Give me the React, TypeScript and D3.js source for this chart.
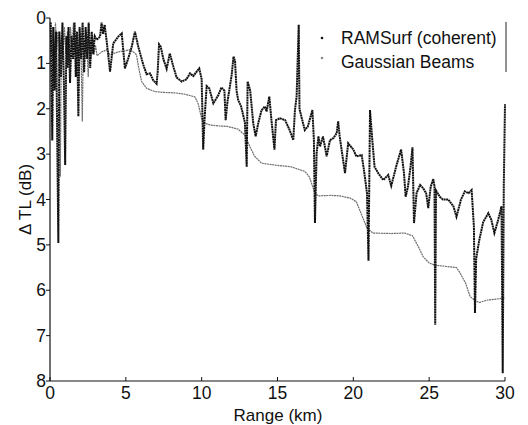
import React from "react";
import * as d3 from "d3";

const ramRange = [0.05,0.15,0.22,0.3,0.4,0.55,0.62,0.72,0.82,0.92,1.0,1.08,1.15,1.22,1.32,1.42,1.52,1.62,1.7,1.78,1.87,1.95,2.05,2.15,2.25,2.35,2.45,2.55,2.65,2.75,2.85,2.95,3.08,3.3,3.4,3.5,3.6,3.74,3.96,4.17,4.5,4.73,4.94,5.16,5.39,5.6,5.82,6.15,6.37,6.6,6.8,7.03,7.1,7.19,7.3,7.47,7.69,7.9,8.13,8.35,8.68,9.0,9.23,9.45,9.67,9.84,10.0,10.1,10.2,10.33,10.5,10.77,11.1,11.3,11.5,11.58,11.7,11.98,12.1,12.2,12.3,12.4,12.6,12.85,12.97,13.03,13.2,13.4,13.56,13.73,13.95,14.17,14.28,14.46,14.6,14.8,14.9,15.16,15.5,15.8,16.04,16.15,16.26,16.4,16.45,16.63,16.8,17.0,17.3,17.4,17.47,17.58,17.7,17.8,18.0,18.24,18.46,18.68,18.9,19.0,19.1,19.45,19.66,20.0,20.2,20.55,20.7,20.9,21.0,21.1,21.25,21.4,21.64,21.97,22.3,22.5,22.85,23.15,23.34,23.45,23.6,23.77,23.9,24.0,24.17,24.4,24.6,24.8,24.94,25.1,25.27,25.35,25.4,25.45,25.7,25.9,26.26,26.6,26.8,27.1,27.35,27.6,27.8,27.95,28.02,28.1,28.3,28.56,28.9,29.1,29.3,29.55,29.77,29.85,29.92,30.0];
const ramTL = [0.1,2.7,0.2,1.6,0.3,4.96,0.3,1.3,0.1,1.5,3.24,0.4,1.1,0.2,1.43,0.4,0.9,0.1,1.3,0.3,2.17,0.2,0.9,0.1,1.2,0.2,0.9,0.1,1.1,0.3,0.8,0.4,0.48,0.41,0.1,0.35,0.15,0.52,1.18,0.56,0.41,0.34,1.11,0.89,0.63,0.3,0.63,1.03,1.24,1.22,1.37,1.45,1.18,0.58,0.63,0.9,1.12,0.78,1.07,1.31,1.4,1.35,1.22,1.28,1.18,1.11,1.35,2.9,2.17,1.5,1.55,1.88,1.7,1.53,1.6,2.25,1.85,1.25,0.85,0.95,1.6,1.8,1.95,2.3,3.28,1.4,1.6,2.32,2.61,2.32,2.03,1.95,2.06,1.73,2.25,2.9,2.25,2.21,2.25,2.47,2.69,2.03,1.73,0.15,2.0,2.25,2.47,2.39,2.03,2.69,4.52,2.98,2.61,2.83,2.61,3.05,2.69,2.65,2.54,2.28,2.61,3.42,2.76,2.9,3.05,3.02,3.35,3.86,5.35,2.03,2.69,3.28,3.42,3.57,3.46,3.7,3.24,2.9,3.42,3.94,3.72,3.28,2.85,4.52,3.86,3.68,3.75,3.86,4.19,3.72,3.55,3.7,6.76,3.8,3.94,4.0,4.0,4.15,4.38,4.0,3.82,3.86,3.79,4.6,6.5,5.3,4.9,4.5,4.3,4.45,4.74,4.45,4.15,7.83,3.7,1.9];

const gbRange = [0.05,0.12,0.2,0.28,0.36,0.45,0.52,0.6,0.68,0.75,0.85,0.95,1.05,1.15,1.25,1.35,1.45,1.55,1.65,1.75,1.85,1.95,2.05,2.13,2.2,2.3,2.4,2.52,2.6,2.7,2.8,2.9,3.0,3.1,3.4,3.75,3.96,4.3,4.6,5.0,5.27,5.5,5.7,5.85,6.04,6.37,6.9,7.5,8.24,8.9,9.56,9.78,9.95,10.1,10.6,11.2,11.7,12.4,12.85,13.2,13.5,13.95,14.8,15.9,16.8,17.1,17.3,17.5,17.7,18.5,19.1,19.8,20.2,20.55,20.9,21.3,22.5,23.4,23.9,24.3,24.6,25.0,25.4,26.0,26.8,27.0,27.4,27.7,28.0,28.3,28.8,29.3,30.0];
const gbTL = [0.3,0.8,0.2,0.9,0.1,0.7,0.3,0.6,3.5,0.4,0.9,0.2,0.8,0.3,1.0,0.2,0.7,0.1,0.8,0.4,0.9,0.3,0.8,2.28,0.5,0.9,0.3,1.3,0.5,0.9,0.4,0.8,0.6,0.83,0.75,0.7,0.81,0.77,0.74,0.72,0.7,0.75,0.81,1.1,1.4,1.55,1.62,1.64,1.65,1.68,1.74,1.9,2.15,2.31,2.36,2.38,2.39,2.45,2.58,2.85,3.05,3.2,3.24,3.28,3.38,3.5,3.7,3.88,3.92,3.91,3.92,3.97,4.05,4.34,4.63,4.74,4.75,4.74,4.8,5.05,5.26,5.4,5.45,5.47,5.5,5.6,5.84,6.14,6.22,6.27,6.22,6.2,6.17];

const xTicks = [0, 5, 10, 15, 20, 25, 30];
const yTicks = [0, 1, 2, 3, 4, 5, 6, 7, 8];
const legendLabels = ["RAMSurf (coherent)", "Gaussian Beams"];

const W = 528, H = 425;
const left = 50, right = 505, top = 18, bottom = 381;
const FONT = "'Liberation Sans', Arial, sans-serif";

export default function App() {
  const x = d3.scaleLinear().domain([0, 30]).range([left, right]);
  const y = d3.scaleLinear().domain([0, 8]).range([top, bottom]);
  const line = d3.line<[number, number]>().x(d => x(d[0])).y(d => y(d[1]));
  const ram = ramRange.map((r, i) => [r, ramTL[i]] as [number, number]);
  const gb = gbRange.map((r, i) => [r, gbTL[i]] as [number, number]);
  const fs = 17;
  return (
    <div style={{ position: "absolute", left: 0, top: 0 }}>
      <svg width={W} height={H} style={{ display: "block", background: "#fff" }}>
        <path d={line(gb) || ""} fill="none" stroke="#6e6e6e" strokeWidth={1.2} strokeDasharray="2 0.6" />
        <path d={line(ram) || ""} fill="none" stroke="#111" strokeWidth={2} strokeDasharray="2 0.5" />
        {/* axes */}
        <line x1={left} x2={left} y1={top} y2={bottom} stroke="#111" strokeWidth={1.2} />
        <line x1={left} x2={right} y1={bottom} y2={bottom} stroke="#111" strokeWidth={1.2} />
        {yTicks.map(t => (
          <g key={"y" + t}>
            <line x1={left - 4} x2={left} y1={y(t)} y2={y(t)} stroke="#111" strokeWidth={1} />
            <text x={left - 4} y={y(t)} textAnchor="end" dominantBaseline="central" fontFamily={FONT} fontSize={fs + 0.5} fill="#111">{t}</text>
          </g>
        ))}
        {xTicks.map(t => (
          <g key={"x" + t}>
            <line x1={x(t)} x2={x(t)} y1={bottom - 4} y2={bottom} stroke="#111" strokeWidth={1} />
            <text x={x(t)} y={399} textAnchor="middle" fontFamily={FONT} fontSize={fs + 0.5} fill="#111">{t}</text>
          </g>
        ))}
        <text x={(left + right) / 2 + 0.5} y={421} textAnchor="middle" fontFamily={FONT} fontSize={fs} fill="#111">Range (km)</text>
        <text transform={`translate(31,${(top + bottom) / 2}) rotate(-90)`} textAnchor="middle" fontFamily={FONT} fontSize={fs} fill="#111">Δ TL (dB)</text>
        {/* legend */}
        <line x1={right + 1} x2={right + 1} y1={22} y2={72} stroke="#222" strokeWidth={1} />
        <circle cx={322} cy={38} r={1.3} fill="#111" />
        <circle cx={322} cy={58} r={1.3} fill="#8a8a8a" />
        <text x={341} y={44} fontFamily={FONT} fontSize={fs + 0.5} fill="#111">{legendLabels[0]}</text>
        <text x={341} y={68} fontFamily={FONT} fontSize={fs + 0.5} fill="#111">{legendLabels[1]}</text>
      </svg>
    </div>
  );
}
